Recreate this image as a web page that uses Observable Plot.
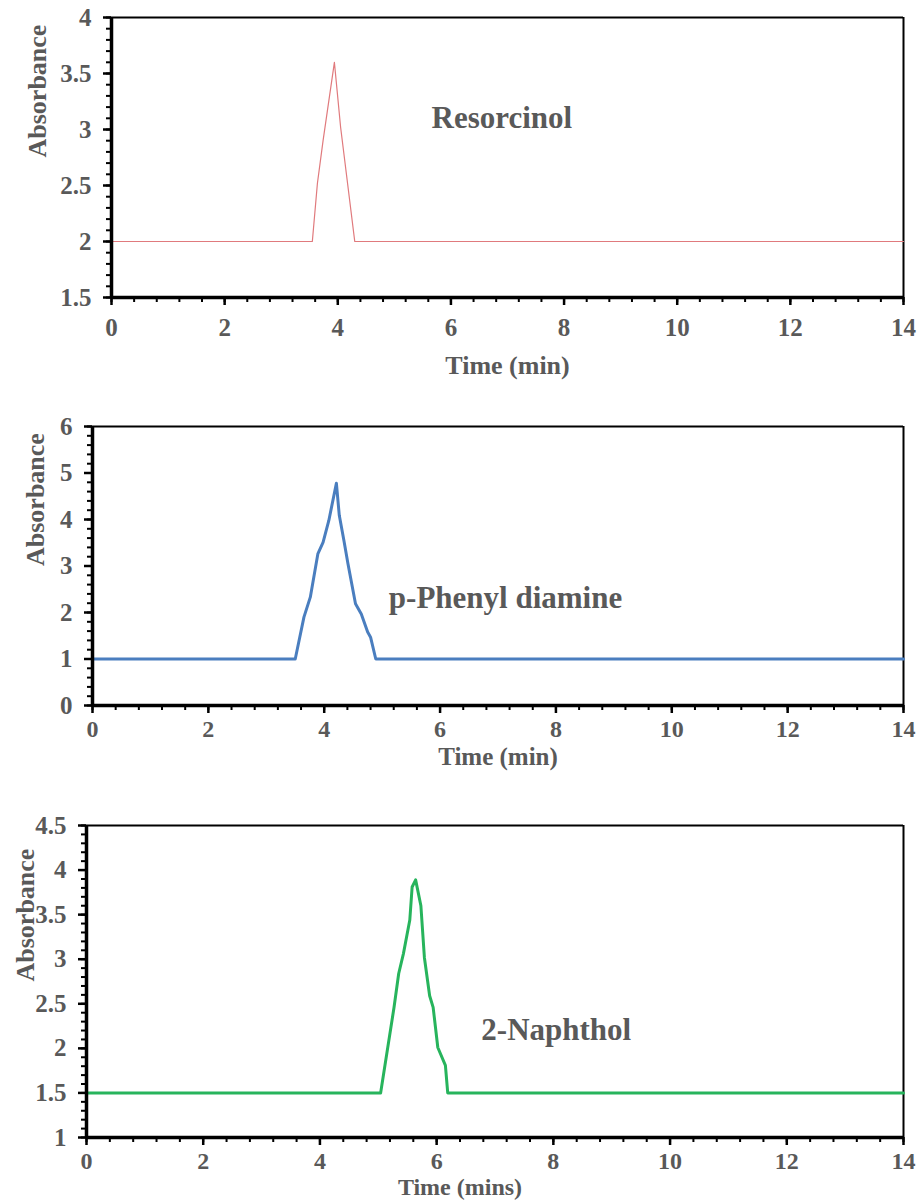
<!DOCTYPE html>
<html>
<head>
<meta charset="utf-8">
<script src="https://cdn.jsdelivr.net/npm/d3@7"></script>
<script src="https://cdn.jsdelivr.net/npm/@observablehq/plot@0.6"></script>
<style>
  body { margin: 0; background: #fff; }
  #wrap { position: relative; width: 922px; height: 1202px; }
  #wrap > div { position: absolute; left: 0; }
</style>
</head>
<body>
<div id="wrap"><div id="p1" style="top:0"></div><div id="p2" style="top:400px"></div><div id="p3" style="top:800px"></div></div>
<script>
// ---- data ----
const resorcinolTime = [0, 3.55, 3.64, 3.74, 3.94, 4.05, 4.30, 14];
const resorcinolAbs  = [2, 2, 2.52, 2.90, 3.60, 3.02, 2, 2];

const phenylTime = [0, 3.50, 3.65, 3.76, 3.89, 3.98, 4.08, 4.21, 4.26, 4.34, 4.41, 4.54, 4.64, 4.75, 4.80, 4.89, 14];
const phenylAbs  = [1, 1, 1.90, 2.33, 3.26, 3.51, 3.98, 4.78, 4.09, 3.55, 3.05, 2.19, 1.97, 1.58, 1.47, 1, 1];

const naphTime = [0, 5.04, 5.27, 5.35, 5.43, 5.54, 5.58, 5.64, 5.73, 5.79, 5.88, 5.94, 6.02, 6.15, 6.19, 14];
const naphAbs  = [1.5, 1.5, 2.46, 2.84, 3.06, 3.44, 3.81, 3.89, 3.60, 3.02, 2.59, 2.46, 2.01, 1.81, 1.5, 1.5];

const xTicks = [0, 2, 4, 6, 8, 10, 12, 14];
const y1Ticks = [1.5, 2, 2.5, 3, 3.5, 4];
const y2Ticks = [0, 1, 2, 3, 4, 5, 6];
const y3Ticks = [1, 1.5, 2, 2.5, 3, 3.5, 4, 4.5];

const names = ["Resorcinol", "p-Phenyl diamine", "2-Naphthol"];
const xLabels = ["Time (min)", "Time (min)", "Time (mins)"];
const yLabel = "Absorbance";

const FONT = "Liberation Serif, Times New Roman, serif";
const GRAY = "#595959";

function panel(cfg) {
  const data = cfg.t.map((t, i) => ({t, a: cfg.a[i]}));
  const [y0, y1] = cfg.yDomain;
  const xMinor = d3.range(0, 14.0001, 0.4).map(v => +v.toFixed(2));
  const yMinor = d3.range(y0, y1 + 1e-6, cfg.yMinorStep).map(v => +v.toFixed(2));
  return Plot.plot({
    width: 922,
    height: cfg.height,
    marginTop: cfg.mt,
    marginBottom: cfg.mb,
    marginLeft: cfg.ml,
    marginRight: 19,
    x: {domain: [0, 14]},
    y: {domain: cfg.yDomain},
    style: {fontFamily: FONT, fontWeight: "bold", background: "#fff", overflow: "visible"},
    marks: [
      // minor ticks
      Plot.axisX(xMinor, {tickSize: 5, text: null, label: null, stroke: "black", strokeWidth: 2}),
      Plot.axisY(yMinor, {tickSize: 5, text: null, label: null, stroke: "black", strokeWidth: 2}),
      // major ticks + labels
      Plot.axisX(xTicks, {tickSize: 8, tickPadding: cfg.xpad, stroke: "black", strokeWidth: 2.5, fill: GRAY, fontSize: cfg.tfs, label: null, tickFormat: d => String(d)}),
      Plot.axisY(cfg.yTicks, {tickSize: 8, tickPadding: 12, stroke: "black", strokeWidth: 2.5, fill: GRAY, fontSize: 25, label: null, tickFormat: d => String(d)}),
      // frame
      Plot.ruleY([y1], {stroke: "black", strokeWidth: 2}),
      Plot.ruleX([14], {stroke: "black", strokeWidth: 2}),
      // data
      Plot.line(data, {x: "t", y: "a", stroke: cfg.color, strokeWidth: cfg.sw, curve: "linear"}),
      // axis lines
      Plot.ruleY([y0], {stroke: "black", strokeWidth: 3.5}),
      Plot.ruleX([0], {stroke: "black", strokeWidth: 3.5}),
      // annotation
      Plot.text([cfg.name], {x: cfg.nx, y: cfg.ny, fontSize: 31, fill: GRAY, fontWeight: "bold"}),
      // axis titles
      Plot.text([cfg.xLabel], {x: cfg.xlx, y: y0, dy: cfg.xldy, fontSize: cfg.lfs, fill: GRAY, fontWeight: "bold", lineAnchor: "middle"}),
      Plot.text([yLabel], {frameAnchor: "left", dx: cfg.yldx, rotate: -90, fontSize: 26, fill: GRAY, fontWeight: "bold", lineAnchor: "middle"})
    ]
  });
}

document.getElementById("p1").appendChild(panel({
  t: resorcinolTime, a: resorcinolAbs, yDomain: [1.5, 4], yTicks: y1Ticks, yMinorStep: 0.1,
  height: 392, mt: 17, mb: 95, ml: 111, color: "#e07a7d", sw: 1.2, xpad: 13, tfs: 25, lfs: 26,
  name: names[0], nx: 6.9, ny: 3.1, xLabel: xLabels[0], xlx: 7, xldy: 68, yldx: -74
}));
document.getElementById("p2").appendChild(panel({
  t: phenylTime, a: phenylAbs, yDomain: [0, 6], yTicks: y2Ticks, yMinorStep: 0.2,
  height: 360, mt: 26, mb: 55, ml: 92, color: "#4a7ebf", sw: 3, xpad: 6, tfs: 24, lfs: 25,
  name: names[1], nx: 7.13, ny: 2.32, xLabel: xLabels[1], xlx: 7, xldy: 51, yldx: -57
}));
document.getElementById("p3").appendChild(panel({
  t: naphTime, a: naphAbs, yDomain: [1, 4.5], yTicks: y3Ticks, yMinorStep: 0.1,
  height: 402, mt: 25, mb: 65, ml: 86, color: "#27b45c", sw: 3, xpad: 6, tfs: 24, lfs: 24,
  name: names[2], nx: 8.05, ny: 2.2, xLabel: xLabels[2], xlx: 6.4, xldy: 50, yldx: -61
}));
</script>
</body>
</html>
